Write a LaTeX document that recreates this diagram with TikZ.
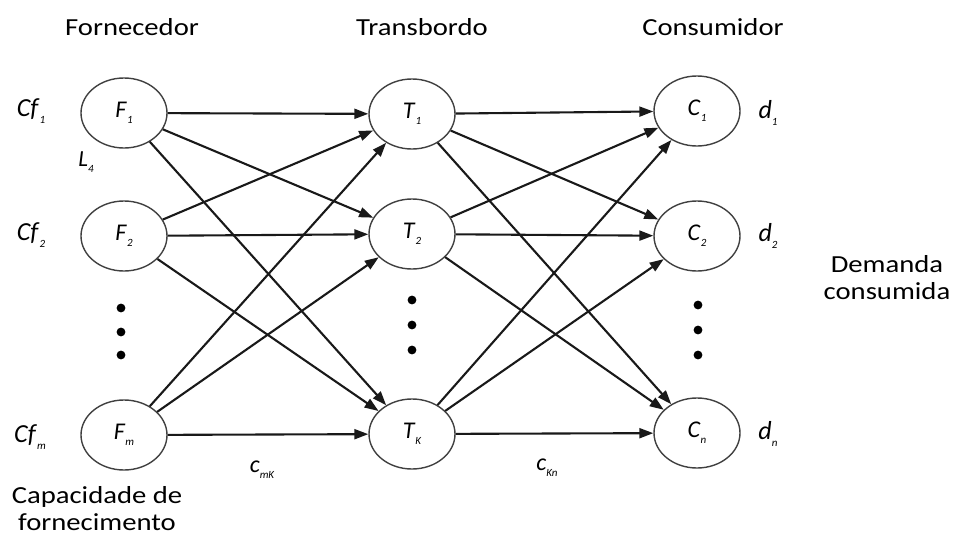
\documentclass[tikz,border=0pt]{standalone}
\usepackage{fontspec}
\setmainfont{Carlito}
\usetikzlibrary{shapes.geometric,arrows.meta}
\newcommand\widetxt[1]{\scalebox{1.17}[1]{#1}}
\newcommand\lab[2]{\textit{#1}\raisebox{-0.5ex}{\fontsize{11}{11}\selectfont\itshape #2}}
\tikzset{
  nd/.style={ellipse,draw=black!75,line width=1.4pt,minimum width=86pt,minimum height=70pt,inner sep=0pt,font=\fontsize{24}{24}\selectfont},
  ar/.style={-{Triangle[length=14pt,width=10pt]},line width=2.1pt,black!90},
  head/.style={font=\fontsize{24.5}{27}\selectfont,align=center},
  side/.style={font=\fontsize{26}{26}\selectfont},
  dotf/.style={fill=black,draw=none}
}
\begin{document}
\begin{tikzpicture}[x=1pt,y=-1pt]
\useasboundingbox (0,0) rectangle (954,536);
% headings
\node[head] (h1) at (132,27) {\widetxt{Fornecedor}};
\node[head] (h2) at (422,27) {\widetxt{Transbordo}};
\node[head] (h3) at (713,27) {\widetxt{Consumidor}};
% nodes
\node[nd] (F1) at (124,113) {\lab{F}{1}};
\node[nd] (F2) at (124,236) {\lab{F}{2}};
\node[nd] (Fm) at (124,435) {\lab{F}{m}};
\node[nd] (T1) at (412,114) {\lab{T}{1}};
\node[nd] (T2) at (412,234) {\lab{T}{2}};
\node[nd] (TK) at (412,434) {\lab{T}{K}};
\node[nd] (C1) at (697,111) {\lab{C}{1}};
\node[nd] (C2) at (697,236) {\lab{C}{2}};
\node[nd] (Cn) at (697,433) {\lab{C}{n}};
% dots
\foreach \y in {308,332,355} \fill[dotf] (121,\y) circle (4.4pt);
\foreach \y in {300,325,350} \fill[dotf] (412,\y) circle (4.4pt);
\foreach \y in {305,330,355} \fill[dotf] (698,\y) circle (4.4pt);
% edges
\foreach \a in {F1,F2,Fm}{\foreach \b in {T1,T2,TK}{\draw[ar] (\a) -- (\b);}}
\foreach \a in {T1,T2,TK}{\foreach \b in {C1,C2,Cn}{\draw[ar] (\a) -- (\b);}}
% side labels
\node[side] (cf1) at (31,111) {\lab{Cf}{1}};
\node[side] (cf2) at (31,235) {\lab{Cf}{2}};
\node[side] (cfm) at (30,437) {\lab{Cf}{m}};
\node[side,font=\fontsize{23}{23}\selectfont] (l4) at (86,162) {\lab{L}{4}};
\node[side] (d1) at (768,113) {\lab{d}{1}};
\node[side] (d2) at (768,236) {\lab{d}{2}};
\node[side] (dn) at (768,434) {\lab{d}{n}};
\node[side,font=\fontsize{24}{24}\selectfont] (cmk) at (262,470) {\lab{c}{mK}};
\node[side,font=\fontsize{24}{24}\selectfont] (ckn) at (547,468) {\lab{c}{Kn}};
\node[head] (dem) at (887,278) {\widetxt{Demanda}\\[0pt]\widetxt{consumida}};
\node[head] (cap) at (97,509) {\widetxt{Capacidade de}\\[0pt]\widetxt{fornecimento}};
\end{tikzpicture}
\end{document}
